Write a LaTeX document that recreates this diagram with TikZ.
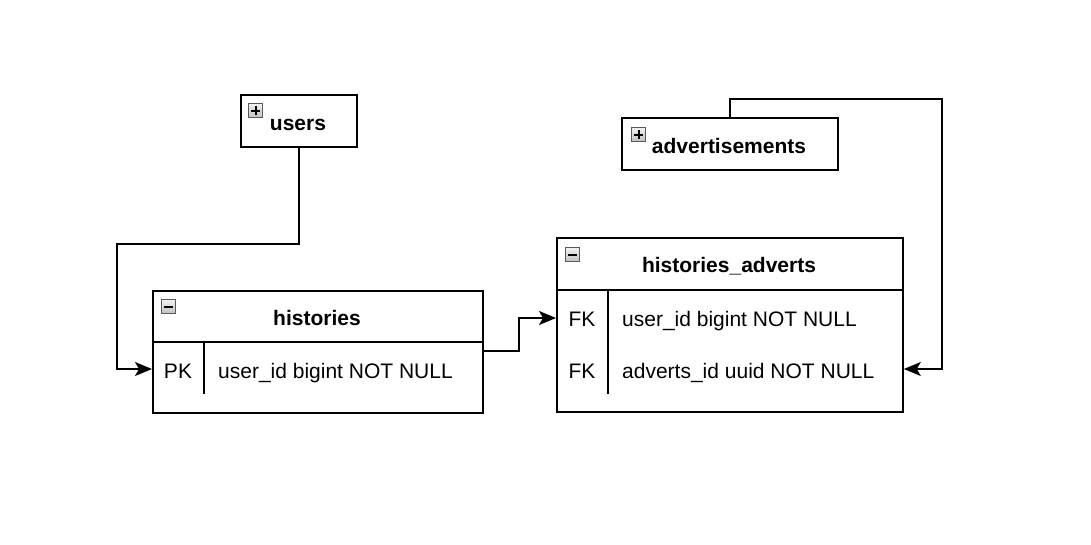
\documentclass[tikz,border=0pt]{standalone}
\usepackage{fontspec}
\setmainfont{Liberation Sans}
\usetikzlibrary{arrows.meta}
\tikzset{
  tbl/.style={draw=black, line width=1.8pt, fill=white, anchor=north west, inner sep=0pt},
  ttl/.style={font=\fontsize{21}{25}\selectfont\bfseries, inner sep=0pt, anchor=base},
  cell/.style={font=\fontsize{21}{25}\selectfont, inner sep=0pt, anchor=base},
  sep/.style={line width=1.8pt},
  conn/.style={line width=1.8pt, -{Stealth[length=17pt,width=14pt,inset=4pt]}},
  iconbox/.style={draw=gray!70!black, line width=1pt, top color=gray!10, bottom color=gray!50, minimum size=14pt, inner sep=0pt, anchor=north west}
}
\newcommand\myicon[2]{% position, plus(1)/minus(0)
  \node[iconbox] (ic) at (#1) {};
  \draw[line width=2pt] ([xshift=-4.5pt]ic.center) -- ([xshift=4.5pt]ic.center);
  \ifnum#2=1 \draw[line width=2pt] ([yshift=-4.5pt]ic.center) -- ([yshift=4.5pt]ic.center);\fi
}
\begin{document}
\begin{tikzpicture}[x=1pt,y=-1pt]
\useasboundingbox[fill=white] (0,0) rectangle (1091,544);

% users
\node[tbl, minimum width=116pt, minimum height=52pt] (users) at (240,94) {};
\myicon{248,103}{1}
\node[ttl] (usersT) at (298,130) {users};

% advertisements
\node[tbl, minimum width=216pt, minimum height=52pt] (adv) at (621,117) {};
\myicon{631,127}{1}
\node[ttl] (advT) at (729,153) {advertisements};

% histories
\node[tbl, minimum width=330pt, minimum height=122pt] (hist) at (152,290) {};
\draw[sep] (152,342) -- (482,342);
\draw[sep] (204,342) -- (204,394);
\myicon{161,299}{0}
\node[ttl] (histT) at (317,325) {histories};
\node[cell] (histPK) at (178,378) {PK};
\node[cell, anchor=base west] (histR1) at (218,378) {user\_id bigint NOT NULL};

% histories_adverts
\node[tbl, minimum width=346pt, minimum height=174pt] (ha) at (556,237) {};
\draw[sep] (556,290) -- (902,290);
\draw[sep] (608,290) -- (608,394);
\myicon{565,247}{0}
\node[ttl] (haT) at (729,272) {histories\_adverts};
\node[cell] (haK1) at (582,326) {FK};
\node[cell, anchor=base west] (haR1) at (622,326) {user\_id bigint NOT NULL};
\node[cell] (haK2) at (582,378) {FK};
\node[cell, anchor=base west] (haR2) at (622,378) {adverts\_id uuid NOT NULL};

% connectors
\draw[conn] (users.south) -- (users.south |- 0,244) -- (117,244) -- (117,369) -- (hist.west |- 0,369);
\draw[conn] (hist.east |- 0,351) -- (519,351) -- (519,318) -- (ha.west |- 0,318);
\draw[conn] (adv.north) -- (adv.north |- 0,99) -- (942,99) -- (942,369) -- (ha.east |- 0,369);
\end{tikzpicture}
\end{document}
